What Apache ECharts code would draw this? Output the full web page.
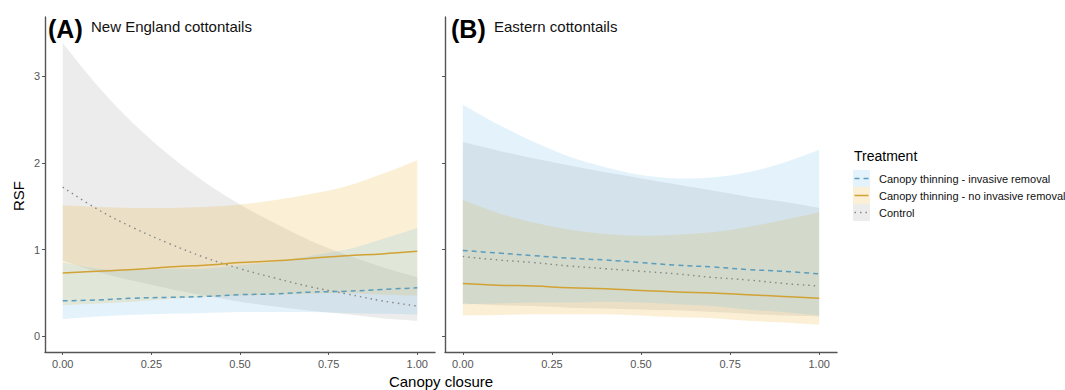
<!DOCTYPE html>
<html><head><meta charset="utf-8">
<script src="https://cdn.jsdelivr.net/npm/echarts@6/dist/echarts.min.js"></script>
<style>html,body{margin:0;padding:0;background:#fff}#c{width:1065px;height:390px}</style>
</head><body><div id="c"></div>
<script>
// ---------- data ----------
const canopy = [0, 0.1, 0.2, 0.3, 0.4, 0.5, 0.6, 0.7, 0.8, 0.9, 1.0];
const xTicks = [0, 0.25, 0.5, 0.75, 1];
const yTicks = [0, 1, 2, 3];
const treatments = ['Canopy thinning - invasive removal', 'Canopy thinning - no invasive removal', 'Control'];
const panelTags = ['(A)', '(B)'];
const panelTitles = ['New England cottontails', 'Eastern cottontails'];

// Panel A: New England cottontails
const neInvFit  = [0.41, 0.42, 0.44, 0.45, 0.46, 0.48, 0.49, 0.51, 0.52, 0.54, 0.56];
const neInvLow  = [0.20, 0.23, 0.25, 0.26, 0.27, 0.28, 0.28, 0.28, 0.27, 0.26, 0.25];
const neInvHigh = [0.85, 0.78, 0.77, 0.78, 0.78, 0.82, 0.86, 0.93, 1.00, 1.12, 1.25];
const neNoFit   = [0.73, 0.75, 0.77, 0.80, 0.82, 0.85, 0.87, 0.90, 0.93, 0.95, 0.98];
const neNoLow   = [0.36, 0.38, 0.40, 0.43, 0.45, 0.47, 0.48, 0.49, 0.50, 0.48, 0.47];
const neNoHigh  = [1.51, 1.49, 1.48, 1.48, 1.49, 1.52, 1.57, 1.64, 1.73, 1.87, 2.03];
const neCtlFit  = [1.72, 1.46, 1.25, 1.07, 0.91, 0.78, 0.67, 0.57, 0.49, 0.41, 0.35];
const neCtlLow  = [0.87, 0.74, 0.64, 0.55, 0.47, 0.40, 0.345, 0.295, 0.255, 0.21, 0.18];
const neCtlHigh = [3.38, 2.88, 2.45, 2.09, 1.78, 1.52, 1.30, 1.10, 0.94, 0.80, 0.68];

// Panel B: Eastern cottontails
const ecInvFit  = [0.99, 0.96, 0.93, 0.90, 0.88, 0.85, 0.82, 0.80, 0.77, 0.75, 0.72];
const ecInvLow  = [0.37, 0.38, 0.39, 0.39, 0.40, 0.39, 0.37, 0.35, 0.31, 0.28, 0.24];
const ecInvHigh = [2.67, 2.44, 2.24, 2.07, 1.95, 1.86, 1.82, 1.83, 1.89, 2.00, 2.15];
const ecNoFit   = [0.61, 0.59, 0.58, 0.56, 0.55, 0.53, 0.51, 0.50, 0.48, 0.46, 0.44];
const ecNoLow   = [0.24, 0.245, 0.255, 0.255, 0.255, 0.24, 0.22, 0.21, 0.18, 0.16, 0.135];
const ecNoHigh  = [1.57, 1.42, 1.31, 1.23, 1.18, 1.16, 1.17, 1.20, 1.26, 1.34, 1.43];
const ecCtlFit  = [0.92, 0.88, 0.85, 0.81, 0.78, 0.75, 0.72, 0.68, 0.65, 0.61, 0.58];
const ecCtlLow  = [0.38, 0.36, 0.35, 0.33, 0.32, 0.31, 0.30, 0.28, 0.26, 0.24, 0.23];
const ecCtlHigh = [2.24, 2.14, 2.05, 1.97, 1.89, 1.82, 1.75, 1.68, 1.61, 1.55, 1.48];

// ---------- styles ----------
const FONT = '"Liberation Sans", Arial, sans-serif';
const lineColors = ['#5a9dbd', '#d1a234', '#868686'];
const fillColors = ['rgba(86,180,233,0.16)', 'rgba(230,159,0,0.16)', 'rgba(140,140,140,0.17)'];
const lineTypes = [[5, 4], 'solid', [1.5, 4]];
const lineWidths = [1.5, 1.5, 1.4];

const panels = [
  { fit: [neInvFit, neNoFit, neCtlFit], low: [neInvLow, neNoLow, neCtlLow], high: [neInvHigh, neNoHigh, neCtlHigh] },
  { fit: [ecInvFit, ecNoFit, ecCtlFit], low: [ecInvLow, ecNoLow, ecCtlLow], high: [ecInvHigh, ecNoHigh, ecCtlHigh] }
];

const pairs = arr => canopy.map((x, i) => [x, arr[i]]);

// smooth path through pixel points (Catmull-Rom -> cubic Bezier)
function curve(pts, moveFirst) {
  let d = (moveFirst ? 'M' : 'L') + pts[0][0] + ' ' + pts[0][1];
  for (let i = 0; i < pts.length - 1; i++) {
    const p0 = pts[Math.max(i - 1, 0)], p1 = pts[i], p2 = pts[i + 1], p3 = pts[Math.min(i + 2, pts.length - 1)];
    const c1 = [p1[0] + (p2[0] - p0[0]) / 6, p1[1] + (p2[1] - p0[1]) / 6];
    const c2 = [p2[0] - (p3[0] - p1[0]) / 6, p2[1] - (p3[1] - p1[1]) / 6];
    d += 'C' + c1[0] + ' ' + c1[1] + ' ' + c2[0] + ' ' + c2[1] + ' ' + p2[0] + ' ' + p2[1];
  }
  return d;
}

const series = [];
panels.forEach((p, pi) => {
  [2, 1, 0].forEach(ti => {
    const rows = canopy.map((x, i) => [x, p.low[ti][i], p.high[ti][i]]);
    series.push({
      type: 'custom', coordinateSystem: 'cartesian2d', xAxisIndex: pi, yAxisIndex: pi,
      silent: true, data: rows,
      renderItem: (params, api) => {
        if (params.dataIndexInside !== 0) return;
        const up = rows.map(r => api.coord([r[0], r[2]]));
        const lo = rows.map(r => api.coord([r[0], r[1]])).reverse();
        const d = curve(up, true) + curve(lo, false) + 'Z';
        return { type: 'path', shape: { pathData: d }, style: { fill: fillColors[ti], stroke: null } };
      }
    });
  });
  [2, 0, 1].forEach(ti => {
    series.push({
      type: 'line', name: treatments[ti], xAxisIndex: pi, yAxisIndex: pi, smooth: 0.4,
      symbol: 'none', silent: true,
      lineStyle: { color: lineColors[ti], width: lineWidths[ti], type: lineTypes[ti] },
      data: pairs(p.fit[ti])
    });
  });
});

const grids = [
  { left: 45, top: 17, width: 390, height: 335 },
  { left: 445, top: 17, width: 392, height: 335 }
];

const axisLineStyle = { color: '#555', width: 1.4 };
const xAxes = grids.map((g, i) => ({
  type: 'value', gridIndex: i, min: -0.05, max: 1.05,
  splitLine: { show: false },
  axisLine: { show: true, onZero: false, lineStyle: axisLineStyle },
  axisTick: { show: true, length: 3, customValues: xTicks, lineStyle: { color: '#555' } },
  axisLabel: { customValues: xTicks, formatter: v => v.toFixed(2), color: '#555',
               fontSize: 11, fontFamily: FONT, margin: 6 }
}));
const yAxes = grids.map((g, i) => ({
  type: 'value', gridIndex: i, min: -0.18, max: 3.68,
  splitLine: { show: false },
  axisLine: { show: true, onZero: false, lineStyle: axisLineStyle },
  axisTick: { show: true, length: 3, customValues: yTicks, lineStyle: { color: '#555' } },
  axisLabel: { show: i === 0, customValues: yTicks, formatter: v => String(v), color: '#555',
               fontSize: 11, fontFamily: FONT, margin: 5 }
}));

// ---------- text and legend graphics ----------
const graphic = [];
const tagX = [48, 451], titleX = [91, 494];
panelTags.forEach((t, i) => {
  graphic.push({ type: 'text', left: tagX[i], top: 16,
    style: { text: t, font: 'bold 25px ' + FONT, fill: '#000' } });
  graphic.push({ type: 'text', left: titleX[i], top: 19,
    style: { text: panelTitles[i], font: '15px ' + FONT, fill: '#111' } });
});
graphic.push({ type: 'text', x: 18, y: 196, rotation: Math.PI / 2,
  style: { text: 'RSF', font: '15px ' + FONT, fill: '#000', align: 'center', verticalAlign: 'middle' } });
graphic.push({ type: 'text', x: 441, y: 381,
  style: { text: 'Canopy closure', font: '15px ' + FONT, fill: '#000', align: 'center', verticalAlign: 'middle' } });
graphic.push({ type: 'text', x: 854, y: 156,
  style: { text: 'Treatment', font: '14px ' + FONT, fill: '#000', verticalAlign: 'middle' } });
const rowY = [178, 195, 212];
treatments.forEach((t, i) => {
  graphic.push({ type: 'rect', shape: { x: 853, y: rowY[i] - 8, width: 17, height: 17 },
    style: { fill: fillColors[i] } });
  graphic.push({ type: 'line', shape: { x1: 854.5, y1: rowY[i] + 0.5, x2: 868.5, y2: rowY[i] + 0.5 },
    style: { stroke: lineColors[i], lineWidth: lineWidths[i],
             lineDash: Array.isArray(lineTypes[i]) ? lineTypes[i] : null } });
  graphic.push({ type: 'text', x: 879, y: rowY[i] + 1,
    style: { text: t, font: '11px ' + FONT, fill: '#111', verticalAlign: 'middle' } });
});

const chart = echarts.init(document.getElementById('c'), null, { renderer: 'svg' });
chart.setOption({
  animation: false,
  backgroundColor: '#fff',
  grid: grids,
  xAxis: xAxes,
  yAxis: yAxes,
  series: series,
  graphic: graphic
});
</script>
</body></html>
